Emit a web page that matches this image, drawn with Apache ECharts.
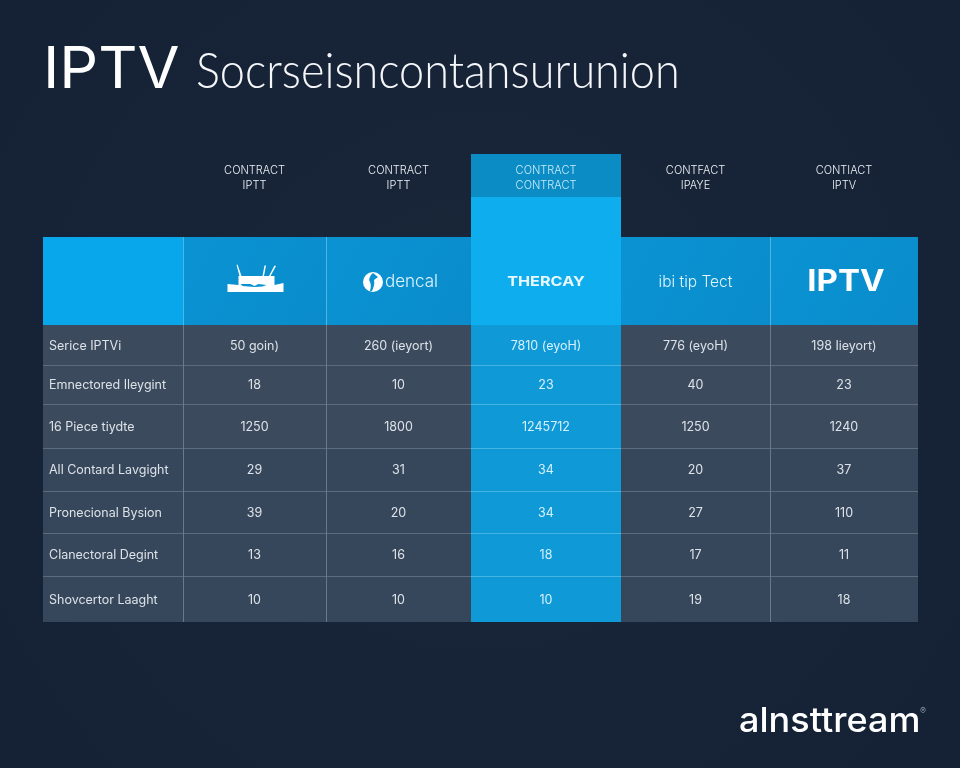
<!DOCTYPE html>
<html>
<head>
<meta charset="utf-8">
<title>IPTV</title>
<style>
  html, body { margin: 0; padding: 0; background: #17243a; }
  #chart { width: 960px; height: 768px; }
</style>
</head>
<body>
<div id="chart"></div>
<script src="https://cdn.jsdelivr.net/npm/echarts@6/dist/echarts.min.js"></script>
<script>
// table data
const headTop = ['CONTRACT', 'CONTRACT', 'CONTRACT', 'CONTFACT', 'CONTIACT'];
const headBottom = ['IPTT', 'IPTT', 'CONTRACT', 'IPAYE', 'IPTV'];
const brands = ['', '', 'dencal', 'THERCAY', 'ibi tip Tect', 'IPTV'];
const rowLabels = ['Serice IPTVi', 'Emnectored Ileygint', '16 Piece tiydte', 'All Contard Lavgight', 'Pronecional Bysion', 'Clanectoral Degint', 'Shovcertor Laaght'];
const col1 = ['50 goin)', '18', '1250', '29', '39', '13', '10'];
const col2 = ['260 (ieyort)', '10', '1800', '31', '20', '16', '10'];
const col3 = ['7810 (eyoH)', '23', '1245712', '34', '34', '18', '10'];
const col4 = ['776 (eyoH)', '40', '1250', '20', '27', '17', '19'];
const col5 = ['198 Iieyort)', '23', '1240', '37', '110', '11', '18'];

// layout, in page pixels
const colEdges = [43, 183, 326, 471, 621, 770, 918];
const rowEdges = [325, 365, 404, 448, 491, 533, 576, 622];
const headY = 237, hiTop = 154, hiBand = 197, hiCol = 3;
const columns = [rowLabels, col1, col2, col3, col4, col5];

const FONT = 'Inter';

function diagGrad(a, b) {
  return new echarts.graphic.LinearGradient(0, 0, 1, 1, [{ offset: 0, color: a }, { offset: 1, color: b }]);
}

// body cells: [col, row]
const bodyData = [];
columns.forEach((c, i) => c.forEach((t, j) => bodyData.push([i, j])));

function renderBody(params, api) {
  const c = api.value(0), r = api.value(1);
  const tl = api.coord([colEdges[c], rowEdges[r]]);
  const br = api.coord([colEdges[c + 1], rowEdges[r + 1]]);
  const w = br[0] - tl[0], h = br[1] - tl[1];
  const hi = c === hiCol;
  const children = [{
    type: 'rect',
    shape: { x: tl[0], y: tl[1], width: w, height: h },
    style: { fill: hi ? '#0f99d6' : (r < 3 ? '#3b4a5c' : '#37475b') }
  }];
  if (r > 0) {
    children.push({
      type: 'rect',
      shape: { x: tl[0], y: tl[1], width: w, height: 1 },
      style: { fill: hi ? '#45b4e4' : '#5d6b7c' }
    });
  }
  if (c > 0 && c !== hiCol && c !== hiCol + 1) {
    children.push({
      type: 'rect',
      shape: { x: tl[0], y: tl[1], width: 1, height: h },
      style: { fill: '#6a7888' }
    });
  }
  children.push({
    type: 'text',
    style: {
      x: c === 0 ? tl[0] + 6 : (tl[0] + br[0]) / 2,
      y: (tl[1] + br[1]) / 2 + 1,
      text: columns[c][r],
      fill: hi ? '#d5f1fd' : '#dde2e8',
      font: '12.5px ' + FONT,
      align: c === 0 ? 'left' : 'center',
      verticalAlign: 'middle'
    }
  });
  return { type: 'group', children: children };
}

// brand band, col 0 is the empty corner cell
const bandData = brands.map((b, i) => [i]);

function renderBand(params, api) {
  const c = api.value(0);
  const text = brands[c];
  const hi = c === hiCol;
  const top = hi ? hiBand : headY;
  const tl = api.coord([colEdges[c], top]);
  const br = api.coord([colEdges[c + 1], rowEdges[0]]);
  const cx = (tl[0] + br[0]) / 2;
  const cy = api.coord([0, 282])[1];
  let fill = diagGrad('#0a93d3', '#0a8ccb');
  if (c === 0) fill = '#08a6ea';
  if (hi) fill = '#0eaded';
  const children = [{
    type: 'rect',
    shape: { x: tl[0], y: tl[1], width: br[0] - tl[0], height: br[1] - tl[1] },
    style: { fill: fill }
  }];
  if (c === 1 || c === 2 || c === 5) {
    children.push({
      type: 'rect',
      shape: { x: tl[0], y: tl[1], width: 1, height: br[1] - tl[1] },
      style: { fill: '#4fb4e3' }
    });
  }
  if (c === 1) {
    // router icon
    children.push({
      type: 'path',
      shape: {
        d: 'M-27,2 L-16,3 L-16,-6 L20,-6 L20,3 L29,1 L29,10 L-27,10 Z' +
           'M-18,-17 L-17,-17.5 L-13,-6 L-15,-6 Z' +
           'M10,-16.5 L11.5,-16.5 L9.5,-6 L8,-6 Z' +
           'M20,-16.5 L21.5,-16 L16,-6 L14.5,-6 Z'
      },
      position: [cx, cy],
      style: { fill: '#ffffff' }
    });
    children.push({
      type: 'path',
      shape: { d: 'M-14,2 L-4,2 L0,4 L4,2 L12,3 L8,4.5 L0,5 L-12,4 Z' },
      position: [cx, cy],
      style: { fill: '#0a93d3' }
    });
  } else if (c === 2) {
    children.push({
      type: 'circle',
      shape: { cx: cx - 25.5, cy: cy, r: 10 },
      style: { fill: '#ffffff' }
    });
    children.push({
      type: 'path',
      shape: { d: 'M-1,-9 L4,-5 L0,-2 Q1,3 -2,9 L-4,9 Q-2,2 -5,-2 Q-4,-7 -1,-9 Z' },
      position: [cx - 24.5, cy],
      style: { fill: '#0a93d3' }
    });
    children.push({
      type: 'text',
      style: { x: cx + 13, y: cy, text: text, fill: '#e3f5fd', font: '300 17px Inter', align: 'center', verticalAlign: 'middle' }
    });
  } else if (text) {
    let font = '300 15.5px ' + FONT;
    let fillT = '#e3f5fd';
    let sx = 1;
    let tx = cx;
    if (c === 3) { font = '700 13.5px Inter'; fillT = '#eaf8fe'; sx = 1.2; }
    if (c === 5) { font = '700 30px Inter'; fillT = '#ffffff'; sx = 1.1; tx = cx + 2; }
    children.push({
      type: 'text',
      x: tx, y: cy, scaleX: sx,
      style: { text: text, fill: fillT, font: font, align: 'center', verticalAlign: 'middle' }
    });
  }
  return { type: 'group', children: children };
}

// column captions above the band
const capData = headTop.map((t, i) => [i + 1]);

function renderCaps(params, api) {
  const c = api.value(0);
  const hi = c === hiCol;
  const tl = api.coord([colEdges[c], hiTop]);
  const br = api.coord([colEdges[c + 1], hiBand]);
  const cx = (tl[0] + br[0]) / 2;
  const children = [];
  if (hi) {
    children.push({
      type: 'rect',
      shape: { x: tl[0], y: tl[1], width: br[0] - tl[0], height: br[1] - tl[1] },
      style: { fill: '#0b8cc4' }
    });
  }
  const fill = hi ? '#c9ecfb' : '#eef1f5';
  const capFont = '300 11px ' + FONT;
  children.push({ type: 'text', style: { x: cx, y: api.coord([0, 171])[1], text: headTop[c - 1], fill: fill, font: capFont, align: 'center', verticalAlign: 'middle' } });
  children.push({ type: 'text', style: { x: cx, y: api.coord([0, 186])[1], text: headBottom[c - 1], fill: fill, font: capFont, align: 'center', verticalAlign: 'middle' } });
  return { type: 'group', children: children };
}

const chart = echarts.init(document.getElementById('chart'));
chart.setOption({
  animation: false,
  backgroundColor: new echarts.graphic.RadialGradient(0.5, 0.5, 0.75, [
    { offset: 0, color: '#1a2739' },
    { offset: 1, color: '#152236' }
  ]),
  grid: { left: 0, right: 0, top: 0, bottom: 0 },
  xAxis: { type: 'value', min: 0, max: 960, show: false },
  yAxis: { type: 'value', min: 0, max: 768, inverse: true, show: false },
  tooltip: { show: false },
  series: [
    { type: 'custom', coordinateSystem: 'cartesian2d', renderItem: renderBody, data: bodyData, silent: true, encode: { x: 0, y: 1 } },
    { type: 'custom', coordinateSystem: 'cartesian2d', renderItem: renderBand, data: bandData, silent: true, encode: { x: 0 } },
    { type: 'custom', coordinateSystem: 'cartesian2d', renderItem: renderCaps, data: capData, silent: true, encode: { x: 0 } }
  ],
  graphic: [
    { type: 'text', x: 43, y: 71, scaleX: 1.05, style: { text: 'IPTV', fill: '#ffffff', font: '400 58px Inter', verticalAlign: 'middle' } },
    { type: 'text', x: 196, y: 72, scaleX: 0.9, style: { text: 'Socrseisncontansurunion', fill: '#f4f6f9', font: '300 50px Lato', verticalAlign: 'middle' } },
    { type: 'text', x: 739, y: 722, scaleX: 1.06, style: { text: 'alnsttream', fill: '#ffffff', font: '500 34px Inter', verticalAlign: 'middle' } },
    { type: 'text', x: 920, y: 711, style: { text: '®', fill: '#8d97a5', font: '9px Inter', verticalAlign: 'middle' } }
  ]
});
</script>
</body>
</html>
